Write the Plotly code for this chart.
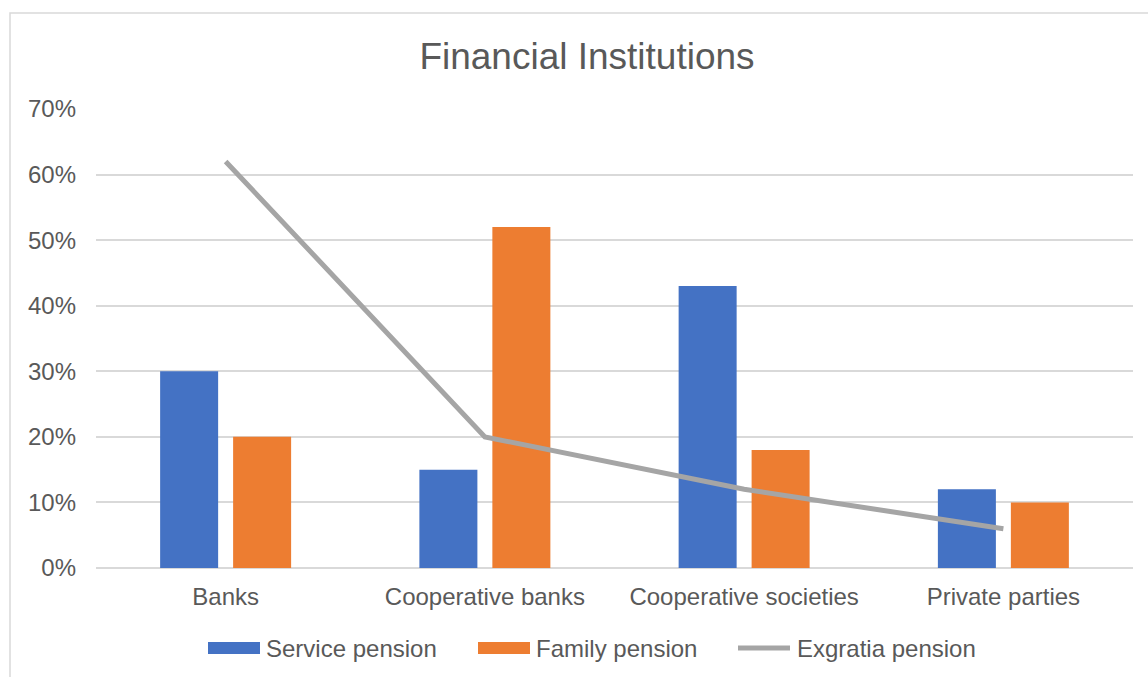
import plotly.graph_objects as go

categories = ["Banks", "Cooperative banks", "Cooperative societies", "Private parties"]
service_pension = [0.30, 0.15, 0.43, 0.12]
family_pension = [0.20, 0.52, 0.18, 0.10]
exgratia_pension = [0.62, 0.20, 0.12, 0.06]
y_ticks = [0, 0.1, 0.2, 0.3, 0.4, 0.5, 0.6, 0.7]
y_tick_labels = ["0%", "10%", "20%", "30%", "40%", "50%", "60%", "70%"]
series_names = ["Service pension", "Family pension", "Exgratia pension"]
colors = ["#4472C4", "#ED7D31", "#A5A5A5"]

FONT = "Liberation Sans, Arial, sans-serif"
TXT = "#595959"

W, H = 1148, 677
ML, MR, MT, MB = 96, 15, 109, 109
PW, PH = W - ML - MR, H - MT - MB


def px_x(p):
    return (p - ML) / PW


def px_y(p):
    return (H - MB - p) / PH


fig = go.Figure()
fig.add_trace(go.Bar(x=categories, y=service_pension, name=series_names[0],
                     marker=dict(color=colors[0], line=dict(width=0)), showlegend=False))
fig.add_trace(go.Bar(x=categories, y=family_pension, name=series_names[1],
                     marker=dict(color=colors[1], line=dict(width=0)), showlegend=False))
fig.add_trace(go.Scatter(x=categories, y=exgratia_pension, name=series_names[2], mode="lines",
                         line=dict(color=colors[2], width=5), showlegend=False))

shapes = [
    # chart border
    dict(type="rect", xref="paper", yref="paper", x0=px_x(10), x1=px_x(1160),
         y0=px_y(700), y1=px_y(13), line=dict(color="#D9D9D9", width=1.5), layer="below"),
    # legend symbols
    dict(type="rect", xref="paper", yref="paper", x0=px_x(208), x1=px_x(260),
         y0=px_y(654), y1=px_y(642), fillcolor=colors[0], line=dict(width=0)),
    dict(type="rect", xref="paper", yref="paper", x0=px_x(478), x1=px_x(530),
         y0=px_y(654), y1=px_y(642), fillcolor=colors[1], line=dict(width=0)),
    dict(type="line", xref="paper", yref="paper", x0=px_x(738), x1=px_x(790),
         y0=px_y(648), y1=px_y(648), line=dict(color=colors[2], width=5)),
]

annotations = []
for name, xpix in zip(series_names, [264, 534, 795]):
    annotations.append(dict(text=name, xref="paper", yref="paper", x=px_x(xpix), y=px_y(648),
                            xanchor="left", yanchor="middle", showarrow=False,
                            font=dict(family=FONT, size=24, color=TXT)))

fig.update_layout(
    width=W, height=H,
    margin=dict(l=ML, r=MR, t=MT, b=MB),
    paper_bgcolor="white", plot_bgcolor="white",
    barmode="group", bargap=0.437, bargroupgap=0.205,
    title=dict(text="Financial Institutions", x=587 / W, xanchor="center",
               y=1 - 56 / H, yanchor="middle", xref="container", yref="container",
               font=dict(family=FONT, size=37, color=TXT)),
    font=dict(family=FONT, size=24, color=TXT),
    shapes=shapes, annotations=annotations,
    xaxis=dict(showgrid=False, showline=False, zeroline=False, ticks="",
               tickfont=dict(family=FONT, size=24, color=TXT), ticklabelstandoff=12),
    yaxis=dict(range=[0, 0.7], tickvals=y_ticks, ticktext=y_tick_labels,
               showgrid=True, gridcolor="#D9D9D9", gridwidth=1.5,
               zeroline=True, zerolinecolor="#D9D9D9", zerolinewidth=1.5,
               showline=False, ticks="", ticklabelstandoff=19,
               tickfont=dict(family=FONT, size=24, color=TXT)),
)

fig.write_html("out.html")
